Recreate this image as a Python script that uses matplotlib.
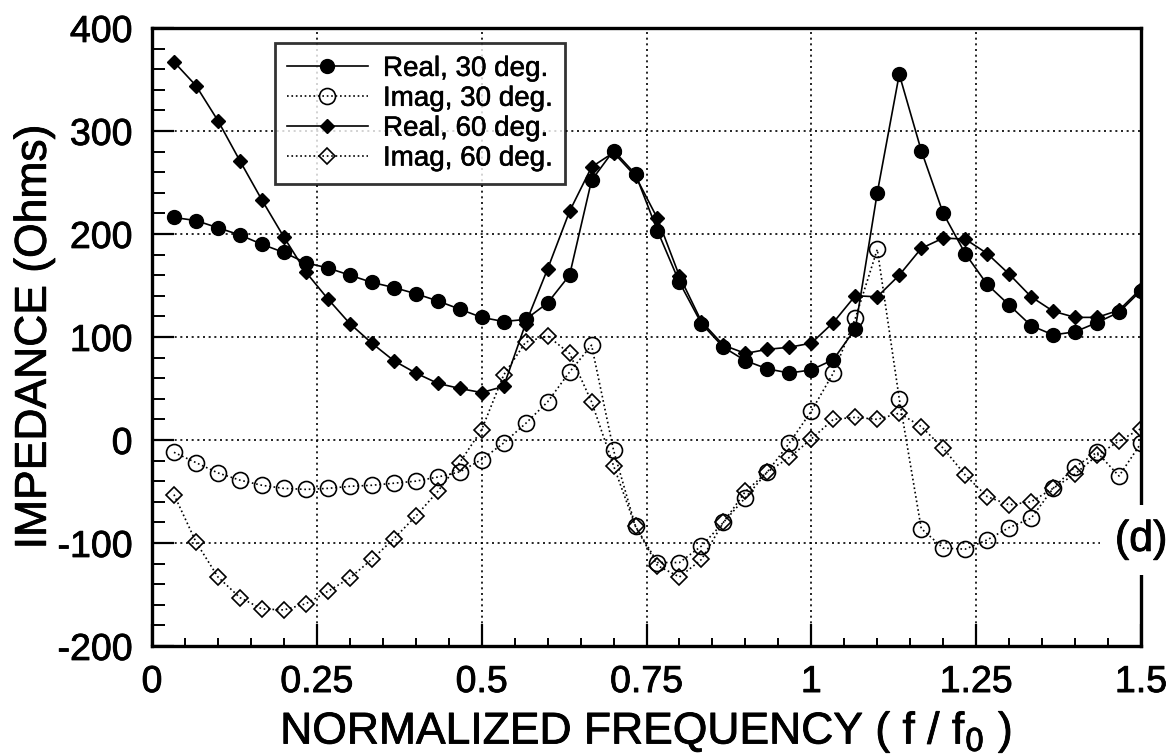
import matplotlib
matplotlib.use("Agg")
import matplotlib.pyplot as plt
import matplotlib.patheffects as pe
from matplotlib.ticker import MultipleLocator, FixedLocator, FixedFormatter

plt.rcParams['font.family'] = ['Liberation Sans', 'DejaVu Sans']
plt.rcParams['axes.unicode_minus'] = False

freq = [k / 30 for k in range(1, 46)]

real_30 = [216, 213, 206, 199, 190, 182, 172, 167, 160, 153, 148, 142, 135, 127, 119,
           115, 117, 133, 160, 252, 281, 258, 203, 153, 113, 90, 77, 69, 65, 68,
           78, 108, 240, 355, 281, 220, 181, 151, 131, 111, 102, 105, 114, 124, 145]
imag_30 = [-12, -22, -32, -39, -44, -47, -48, -47, -45, -44, -42, -40, -36, -31, -19,
           -3, 16, 37, 66, 92, -10, -84, -119, -119, -103, -80, -56, -31, -3, 28,
           65, 118, 185, 40, -86, -105, -106, -97, -85, -76, -47, -26, -12, -35, -3]
real_60 = [367, 344, 310, 271, 233, 197, 163, 137, 113, 94, 77, 65, 55, 50, 46,
           52, 113, 166, 222, 265, 279, 256, 215, 159, 115, 92, 84, 88, 90, 94,
           114, 140, 139, 160, 186, 196, 195, 181, 161, 139, 125, 119, 119, 126, 147]
imag_60 = [-53, -99, -133, -153, -164, -165, -159, -147, -134, -116, -96, -74, -50, -22, 10,
           63, 95, 101, 84, 37, -25, -84, -122, -133, -116, -80, -50, -31, -17, 1,
           20, 22, 20, 26, 13, -8, -34, -55, -63, -60, -47, -33, -15, -1, 11]

labels = ["Real, 30 deg.", "Imag, 30 deg.", "Real, 60 deg.", "Imag, 60 deg."]
xticks = [0, 0.25, 0.5, 0.75, 1.0, 1.25, 1.5]
xticklabels = ["0", "0.25", "0.5", "0.75", "1", "1.25", "1.5"]
yticks = [-200, -100, 0, 100, 200, 300, 400]

bold = [pe.withStroke(linewidth=0.6, foreground='black')]

fig = plt.figure(figsize=(11.71, 7.55), dpi=100)
ax = fig.add_axes([0.1298, 0.1444, 0.9744 - 0.1298, 0.963 - 0.1444])

ax.plot(freq, real_30, '-', color='black', lw=1.2, marker='o', ms=10,
        mfc='black', mec='black', label=labels[0], zorder=4)
ax.plot(freq, imag_30, ':', color='black', lw=1.2, marker='o', ms=11.5,
        mfc='none', mec='black', mew=1.2, label=labels[1], zorder=3)
ax.plot(freq, real_60, '-', color='black', lw=1.2, marker='D', ms=7.5,
        mfc='black', mec='black', label=labels[2], zorder=4)
ax.plot(freq, imag_60, ':', color='black', lw=1.2, marker='D', ms=8.5,
        mfc='none', mec='black', mew=1.2, label=labels[3], zorder=3)

ax.set_xlim(0, 1.5)
ax.set_ylim(-200, 400)
ax.xaxis.set_major_locator(FixedLocator(xticks))
ax.xaxis.set_major_formatter(FixedFormatter(xticklabels))
ax.xaxis.set_minor_locator(MultipleLocator(0.05))
ax.yaxis.set_major_locator(FixedLocator(yticks))
ax.yaxis.set_minor_locator(MultipleLocator(20))

ax.grid(True, which='major', linestyle=(0, (1.2, 2.2)), color='black', lw=1.2)

ax.tick_params(axis='both', which='major', direction='in', length=16, width=1.6,
               labelsize=27, top=False, right=False)
ax.tick_params(axis='x', which='major', pad=13)
ax.tick_params(axis='y', which='major', pad=14)
ax.tick_params(axis='x', which='minor', direction='in', length=6, width=1.4, top=False)
ax.tick_params(axis='y', which='minor', direction='in', length=9, width=1.4, right=False)

for s in ax.spines.values():
    s.set_linewidth(2.4)

ax.set_xlabel("NORMALIZED FREQUENCY ( f / f$_0$ )", fontsize=32, labelpad=7)
ax.set_ylabel("IMPEDANCE (Ohms)", fontsize=32, labelpad=2)

for t in ax.get_xticklabels() + ax.get_yticklabels():
    t.set_path_effects(bold)
ax.xaxis.label.set_path_effects(bold)
ax.yaxis.label.set_path_effects(bold)

leg = ax.legend(loc='upper left', bbox_to_anchor=(0.124, 0.975), fontsize=20,
                handlelength=2.9, handletextpad=0.55, labelspacing=0.14,
                borderpad=0.45, frameon=True, fancybox=False, borderaxespad=0)
leg.get_frame().set_edgecolor('black')
leg.get_frame().set_linewidth(2.0)
leg.set_zorder(6)
for t in leg.get_texts():
    t.set_path_effects([pe.withStroke(linewidth=0.4, foreground='black')])

ax.text(1.5, -97, "(d)", fontsize=31, ha='center', va='center', zorder=10,
        path_effects=bold,
        bbox=dict(boxstyle='square,pad=0.35', facecolor='white', edgecolor='none'))

fig.savefig("out.png", dpi=100)
